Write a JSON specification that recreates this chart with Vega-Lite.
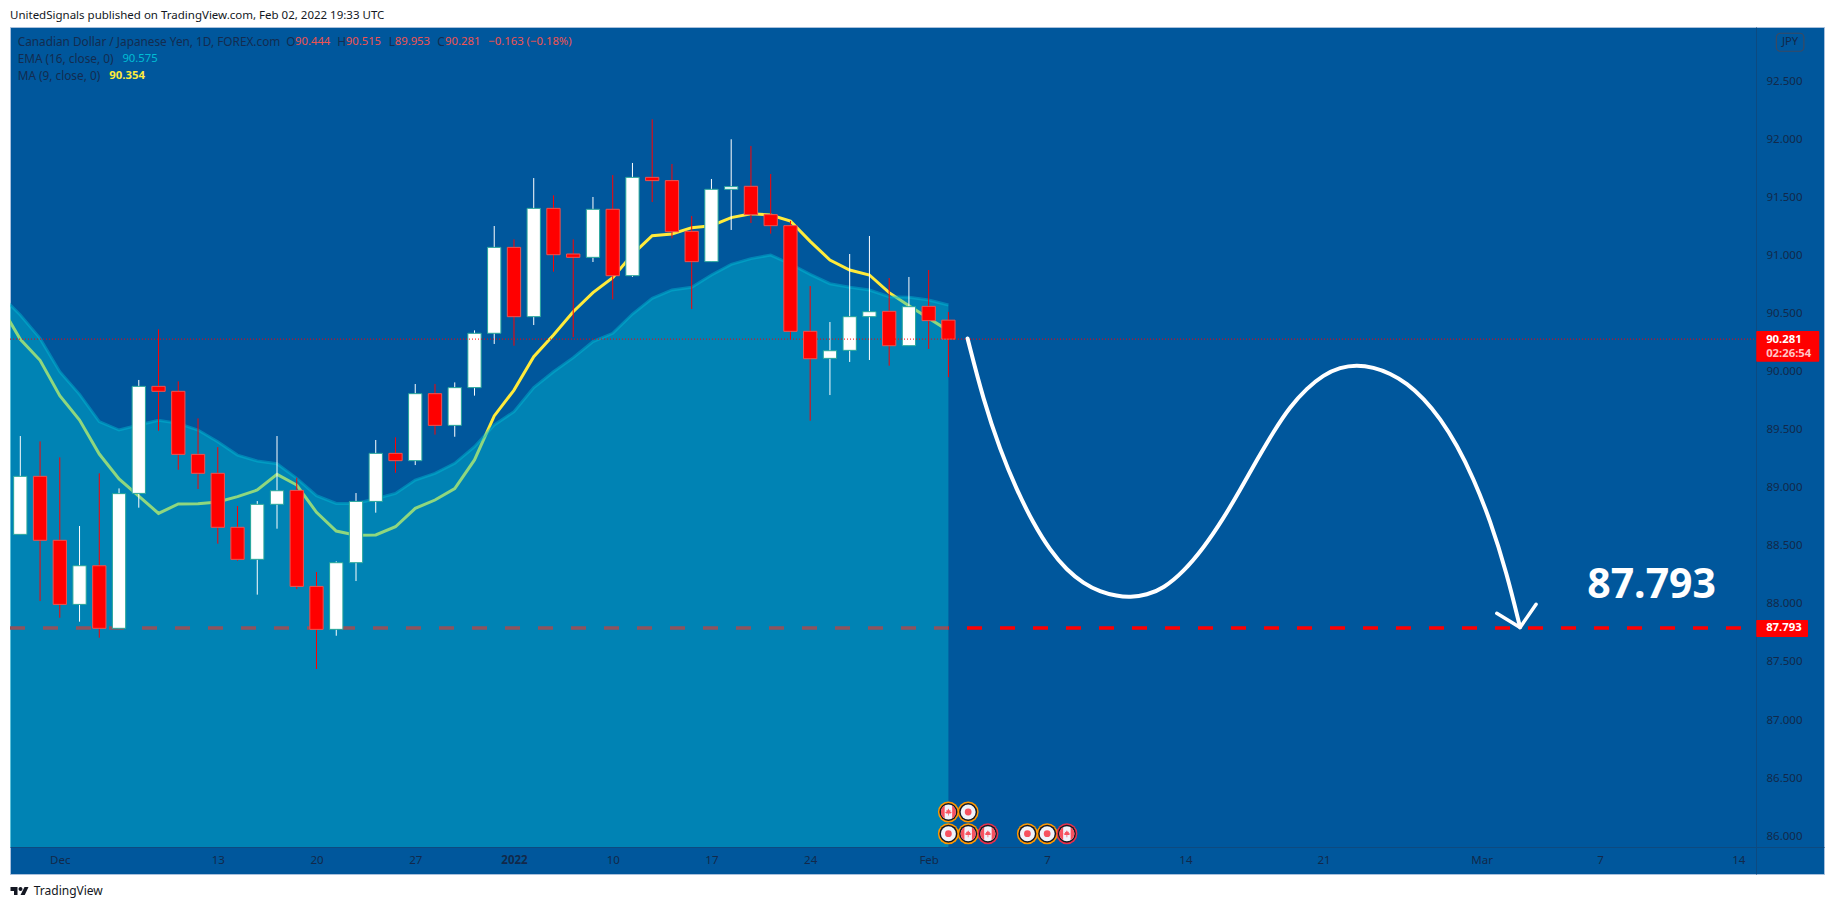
{
  "$schema": "https://vega.github.io/schema/vega-lite/v6.json",
  "width": 1814,
  "height": 847,
  "autosize": {"type": "none"},
  "padding": {"left": 10, "top": 27, "right": 10, "bottom": 36},
  "background": "white",
  "title": {
    "text": "UnitedSignals published on TradingView.com, Feb 02, 2022 19:33 UTC",
    "anchor": "start",
    "frame": "group",
    "font": "Noto Sans",
    "fontSize": 11.5,
    "fontWeight": "normal",
    "color": "#131722",
    "offset": 6
  },
  "config": {
    "view": {"fill": "#00579c", "stroke": "#a8c0dc"},
    "axis": {"grid": false, "ticks": false, "title": null, "labelFont": "Noto Sans", "labelFontSize": 11.5, "labelColor": "#12294a", "domainColor": "#0d4a80", "domainWidth": 1, "labelOverlap": false, "labelFlush": false, "labelBound": false},
    "text": {"font": "Noto Sans", "fontSize": 11.3}
  },
  "datasets": {
    "candles": [
      {"bar":0,"open":88.599,"high":89.446,"low":88.599,"close":89.099},
      {"bar":1,"open":89.099,"high":89.400,"low":88.025,"close":88.548},
      {"bar":2,"open":88.548,"high":89.262,"low":87.881,"close":87.996},
      {"bar":3,"open":87.996,"high":88.671,"low":87.847,"close":88.329},
      {"bar":4,"open":88.329,"high":89.125,"low":87.709,"close":87.790},
      {"bar":5,"open":87.790,"high":88.995,"low":87.790,"close":88.950},
      {"bar":6,"open":88.952,"high":89.929,"low":88.829,"close":89.874},
      {"bar":7,"open":89.874,"high":90.365,"low":89.492,"close":89.831},
      {"bar":8,"open":89.831,"high":89.917,"low":89.156,"close":89.288},
      {"bar":9,"open":89.288,"high":89.598,"low":88.990,"close":89.125},
      {"bar":10,"open":89.125,"high":89.351,"low":88.519,"close":88.660},
      {"bar":11,"open":88.660,"high":88.843,"low":88.372,"close":88.384},
      {"bar":12,"open":88.384,"high":88.886,"low":88.080,"close":88.858},
      {"bar":13,"open":88.858,"high":89.446,"low":88.648,"close":88.975},
      {"bar":14,"open":88.978,"high":89.087,"low":88.128,"close":88.151},
      {"bar":15,"open":88.151,"high":88.275,"low":87.439,"close":87.781},
      {"bar":16,"open":87.781,"high":88.367,"low":87.726,"close":88.355},
      {"bar":17,"open":88.355,"high":88.955,"low":88.197,"close":88.883},
      {"bar":18,"open":88.883,"high":89.412,"low":88.786,"close":89.297},
      {"bar":19,"open":89.297,"high":89.435,"low":89.130,"close":89.234},
      {"bar":20,"open":89.234,"high":89.894,"low":89.196,"close":89.811},
      {"bar":21,"open":89.811,"high":89.894,"low":89.458,"close":89.538},
      {"bar":22,"open":89.538,"high":89.908,"low":89.440,"close":89.863},
      {"bar":23,"open":89.863,"high":90.356,"low":89.794,"close":90.331},
      {"bar":24,"open":90.331,"high":91.255,"low":90.239,"close":91.071},
      {"bar":25,"open":91.071,"high":91.140,"low":90.224,"close":90.474},
      {"bar":26,"open":90.474,"high":91.668,"low":90.402,"close":91.407},
      {"bar":27,"open":91.407,"high":91.519,"low":90.862,"close":91.008},
      {"bar":28,"open":91.014,"high":91.140,"low":90.299,"close":90.985},
      {"bar":29,"open":90.985,"high":91.505,"low":90.945,"close":91.399},
      {"bar":30,"open":91.399,"high":91.694,"low":90.623,"close":90.827},
      {"bar":31,"open":90.827,"high":91.798,"low":90.816,"close":91.674},
      {"bar":32,"open":91.674,"high":92.174,"low":91.462,"close":91.646},
      {"bar":33,"open":91.646,"high":91.789,"low":91.149,"close":91.206},
      {"bar":34,"open":91.209,"high":91.341,"low":90.540,"close":90.948},
      {"bar":35,"open":90.948,"high":91.660,"low":90.948,"close":91.571},
      {"bar":36,"open":91.571,"high":92.002,"low":91.221,"close":91.594},
      {"bar":37,"open":91.597,"high":91.944,"low":91.281,"close":91.353},
      {"bar":38,"open":91.353,"high":91.703,"low":91.189,"close":91.258},
      {"bar":39,"open":91.258,"high":91.298,"low":90.279,"close":90.348},
      {"bar":40,"open":90.348,"high":90.738,"low":89.578,"close":90.112},
      {"bar":41,"open":90.115,"high":90.428,"low":89.799,"close":90.181},
      {"bar":42,"open":90.184,"high":91.014,"low":90.084,"close":90.474},
      {"bar":43,"open":90.474,"high":91.169,"low":90.101,"close":90.517},
      {"bar":44,"open":90.520,"high":90.807,"low":90.052,"close":90.224},
      {"bar":45,"open":90.224,"high":90.816,"low":90.224,"close":90.560},
      {"bar":46,"open":90.563,"high":90.876,"low":90.196,"close":90.440},
      {"bar":47,"open":90.444,"high":90.515,"low":89.953,"close":90.281}
    ],
    "averages": [
      {"bar":-1,"ma":90.569,"ema":90.661},
      {"bar":0,"ma":90.279,"ema":90.488},
      {"bar":1,"ma":90.098,"ema":90.287},
      {"bar":2,"ma":89.794,"ema":90.000},
      {"bar":3,"ma":89.584,"ema":89.805},
      {"bar":4,"ma":89.291,"ema":89.570},
      {"bar":5,"ma":89.076,"ema":89.498},
      {"bar":6,"ma":88.929,"ema":89.541},
      {"bar":7,"ma":88.780,"ema":89.581},
      {"bar":8,"ma":88.861,"ema":89.555},
      {"bar":9,"ma":88.863,"ema":89.498},
      {"bar":10,"ma":88.878,"ema":89.397},
      {"bar":11,"ma":88.924,"ema":89.282},
      {"bar":12,"ma":88.981,"ema":89.231},
      {"bar":13,"ma":89.116,"ema":89.208},
      {"bar":14,"ma":89.024,"ema":89.082},
      {"bar":15,"ma":88.789,"ema":88.932},
      {"bar":16,"ma":88.628,"ema":88.866},
      {"bar":17,"ma":88.591,"ema":88.866},
      {"bar":18,"ma":88.594,"ema":88.906},
      {"bar":19,"ma":88.665,"ema":88.952},
      {"bar":20,"ma":88.823,"ema":89.067},
      {"bar":21,"ma":88.895,"ema":89.125},
      {"bar":22,"ma":88.993,"ema":89.211},
      {"bar":23,"ma":89.240,"ema":89.354},
      {"bar":24,"ma":89.619,"ema":89.541},
      {"bar":25,"ma":89.842,"ema":89.656},
      {"bar":26,"ma":90.129,"ema":89.863},
      {"bar":27,"ma":90.316,"ema":90.000},
      {"bar":28,"ma":90.517,"ema":90.121},
      {"bar":29,"ma":90.681,"ema":90.259},
      {"bar":30,"ma":90.810,"ema":90.331},
      {"bar":31,"ma":91.011,"ema":90.497},
      {"bar":32,"ma":91.172,"ema":90.632},
      {"bar":33,"ma":91.186,"ema":90.704},
      {"bar":34,"ma":91.241,"ema":90.727},
      {"bar":35,"ma":91.258,"ema":90.833},
      {"bar":36,"ma":91.327,"ema":90.925},
      {"bar":37,"ma":91.361,"ema":90.974},
      {"bar":38,"ma":91.350,"ema":91.005},
      {"bar":39,"ma":91.298,"ema":90.928},
      {"bar":40,"ma":91.123,"ema":90.839},
      {"bar":41,"ma":90.962,"ema":90.758},
      {"bar":42,"ma":90.876,"ema":90.727},
      {"bar":43,"ma":90.833,"ema":90.704},
      {"bar":44,"ma":90.681,"ema":90.646},
      {"bar":45,"ma":90.569,"ema":90.641},
      {"bar":46,"ma":90.460,"ema":90.618},
      {"bar":47,"ma":90.354,"ema":90.575}
    ],
    "events": [
      {"bar":47,"price":86.208,"country":"CA","impact":"medium"},
      {"bar":48,"price":86.208,"country":"JP","impact":"medium"},
      {"bar":47,"price":86.021,"country":"JP","impact":"medium"},
      {"bar":48,"price":86.021,"country":"CA","impact":"medium"},
      {"bar":49,"price":86.021,"country":"CA","impact":"high"},
      {"bar":51,"price":86.021,"country":"JP","impact":"medium"},
      {"bar":52,"price":86.021,"country":"JP","impact":"medium"},
      {"bar":53,"price":86.021,"country":"CA","impact":"high"}
    ]
  },
  "encoding": {
    "x": {
      "field": "bar",
      "type": "quantitative",
      "scale": {"domain": [-0.5217, 91.34], "nice": false, "zero": false, "padding": 0},
      "axis": {
        "orient": "bottom",
        "offset": -27,
        "title": null,
        "values": [2, 10, 15, 20, 25, 30, 35, 40, 46, 52, 59, 66, 74, 80, 87],
        "labelExpr": "{'2':'Dec','10':'13','15':'20','20':'27','25':'2022','30':'10','35':'17','40':'24','46':'Feb','52':'7','59':'14','66':'21','74':'Mar','80':'7','87':'14'}[datum.value]",
        "labelPadding": 7,
        "labelFontWeight": {"condition": {"test": "datum.value == 25", "value": "bold"}, "value": "normal"}
      }
    },
    "y": {
      "field": "price",
      "type": "quantitative",
      "scale": {"domain": [85.674, 92.969], "nice": false, "zero": false},
      "axis": {
        "orient": "right",
        "offset": -68,
        "title": null,
        "values": [86, 86.5, 87, 87.5, 88, 88.5, 89, 89.5, 90, 90.5, 91, 91.5, 92, 92.5],
        "format": ".3f",
        "labelPadding": 10,
        "labelAlign": "left"
      }
    }
  },
  "layer": [
    {
      "data": {"values": [{"bar": -0.5217, "price": 87.793}, {"bar": 87.14, "price": 87.793}]},
      "mark": {"type": "line", "color": "#ff0000", "strokeWidth": 3.4, "strokeDash": [15, 18], "strokeCap": "butt"}
    },
    {
      "data": {"name": "averages"},
      "mark": {"type": "line", "color": "#ffeb3b", "strokeWidth": 3, "clip": true},
      "encoding": {"y": {"field": "ma", "type": "quantitative"}}
    },
    {
      "data": {"name": "averages"},
      "mark": {"type": "area", "color": "#00bcd4", "opacity": 0.44, "clip": true},
      "encoding": {"y": {"field": "ema", "type": "quantitative"}, "y2": {"datum": 85.906}}
    },
    {
      "data": {"name": "averages"},
      "mark": {"type": "line", "color": "#00bcd4", "opacity": 0.45, "strokeWidth": 3, "clip": true},
      "encoding": {"y": {"field": "ema", "type": "quantitative"}}
    },
    {
      "data": {"name": "candles"},
      "mark": {"type": "rule", "strokeWidth": 1},
      "encoding": {
        "y": {"field": "low", "type": "quantitative"},
        "y2": {"field": "high"},
        "color": {"condition": {"test": "datum.close >= datum.open", "value": "#ffffff"}, "value": "#ff0000"}
      }
    },
    {
      "data": {"name": "candles"},
      "mark": {"type": "bar", "size": 13.3, "strokeWidth": 1},
      "encoding": {
        "y": {"field": "open", "type": "quantitative"},
        "y2": {"field": "close"},
        "fill": {"condition": {"test": "datum.close >= datum.open", "value": "#ffffff"}, "value": "#ff0000"},
        "stroke": {"condition": {"test": "datum.close >= datum.open", "value": "#26a69a"}, "value": "#ef5350"}
      }
    },
    {
      "data": {"values": [{"bar": -0.5217, "bar2": 87.91, "price": 90.281}]},
      "mark": {"type": "rule", "color": "#ff0000", "strokeWidth": 1, "strokeDash": [1, 2]},
      "encoding": {"x2": {"field": "bar2"}}
    },
    {
      "data": {"values": [
        {"bar":47.97,"price":90.286},{"bar":48.77,"price":89.756},{"bar":49.62,"price":89.326},{"bar":50.46,"price":88.981},
        {"bar":51.30,"price":88.694},{"bar":52.15,"price":88.461},{"bar":52.99,"price":88.292},{"bar":53.84,"price":88.177},
        {"bar":54.68,"price":88.105},{"bar":55.53,"price":88.068},{"bar":56.20,"price":88.057},{"bar":57.05,"price":88.077},
        {"bar":57.89,"price":88.134},{"bar":58.90,"price":88.277},{"bar":59.91,"price":88.479},{"bar":60.93,"price":88.737},
        {"bar":61.77,"price":88.981},{"bar":62.62,"price":89.239},{"bar":63.46,"price":89.483},{"bar":64.30,"price":89.699},
        {"bar":65.15,"price":89.857},{"bar":65.99,"price":89.972},{"bar":66.84,"price":90.038},{"bar":67.68,"price":90.058},
        {"bar":68.52,"price":90.038},{"bar":69.37,"price":89.986},{"bar":70.22,"price":89.900},{"bar":71.06,"price":89.771},
        {"bar":71.90,"price":89.599},{"bar":72.75,"price":89.369},{"bar":73.59,"price":89.082},{"bar":74.43,"price":88.723},
        {"bar":75.28,"price":88.264},{"bar":75.95,"price":87.798}
      ]},
      "mark": {"type": "line", "color": "#ffffff", "strokeWidth": 4, "interpolate": "basis", "strokeCap": "round"}
    },
    {
      "data": {"values": [{"bar":74.77,"price":87.919},{"bar":75.95,"price":87.798},{"bar":76.76,"price":87.997}]},
      "mark": {"type": "line", "color": "#ffffff", "strokeWidth": 3.5, "strokeCap": "round", "strokeJoin": "round"}
    },
    {
      "data": {"values": [{"bar":87.91,"bar2":91.10,"price":90.351,"price2":90.086},{"bar":87.91,"bar2":90.53,"price":87.861,"price2":87.715}]},
      "mark": {"type": "rect", "color": "#ff0000", "cornerRadius": 1},
      "encoding": {"x2": {"field": "bar2"}, "y2": {"field": "price2"}}
    },
    {
      "data": {"values": [{"bar":88.93,"bar2":90.32,"price":92.915,"price2":92.760}]},
      "mark": {"type": "rect", "fill": "#00579c", "stroke": "#3a4a63", "strokeWidth": 1.2, "cornerRadius": 4, "opacity": 1},
      "encoding": {"x2": {"field": "bar2"}, "y2": {"field": "price2"}}
    },
    {
      "data": {"values": [{"bar":89.62,"price":92.84,"label":"JPY"}]},
      "mark": {"type": "text", "color": "#12294a", "align": "center", "baseline": "middle"},
      "encoding": {"text": {"field": "label"}}
    },
    {
      "data": {"values": [{"bar":88.41,"price":90.276,"label":"90.281"},{"bar":88.41,"price":87.792,"label":"87.793"}]},
      "mark": {"type": "text", "color": "#ffffff", "align": "left", "baseline": "middle", "fontWeight": "bold"},
      "encoding": {"text": {"field": "label"}}
    },
    {
      "data": {"values": [{"bar":88.41,"price":90.152,"label":"02:26:54"}]},
      "mark": {"type": "text", "color": "#ffc4c4", "align": "left", "baseline": "middle", "fontWeight": "bold"},
      "encoding": {"text": {"field": "label"}}
    },
    {
      "data": {"values": [{"bar":82.61,"price":88.156,"label":"87.793"}]},
      "mark": {"type": "text", "color": "#ffffff", "align": "center", "baseline": "middle", "fontWeight": "bold", "fontSize": 41},
      "encoding": {"text": {"field": "label"}}
    },
    {
      "data": {"values": [
        {"bar":-0.132,"price":92.842,"label":"Canadian Dollar / Japanese Yen, 1D, FOREX.com"},
        {"bar":13.47,"price":92.842,"label":"O"},
        {"bar":16.05,"price":92.842,"label":"H"},
        {"bar":18.66,"price":92.842,"label":"L"},
        {"bar":21.12,"price":92.842,"label":"C"},
        {"bar":-0.132,"price":92.696,"label":"EMA (16, close, 0)"},
        {"bar":-0.132,"price":92.550,"label":"MA (9, close, 0)"}
      ]},
      "mark": {"type": "text", "color": "#132c50", "align": "left", "baseline": "middle", "fontSize": 11.8},
      "encoding": {"text": {"field": "label"}}
    },
    {
      "data": {"values": [
        {"bar":13.91,"price":92.842,"label":"90.444"},
        {"bar":16.48,"price":92.842,"label":"90.515"},
        {"bar":18.96,"price":92.842,"label":"89.953"},
        {"bar":21.51,"price":92.842,"label":"90.281"},
        {"bar":23.70,"price":92.842,"label":"−0.163 (−0.18%)"}
      ]},
      "mark": {"type": "text", "color": "#ef5350", "align": "left", "baseline": "middle"},
      "encoding": {"text": {"field": "label"}}
    },
    {
      "data": {"values": [{"bar":5.17,"price":92.696,"label":"90.575"}]},
      "mark": {"type": "text", "color": "#00bcd4", "align": "left", "baseline": "middle"},
      "encoding": {"text": {"field": "label"}}
    },
    {
      "data": {"values": [{"bar":4.51,"price":92.550,"label":"90.354"}]},
      "mark": {"type": "text", "color": "#ffeb3b", "align": "left", "baseline": "middle", "fontWeight": "bold"},
      "encoding": {"text": {"field": "label"}}
    },
    {
      "data": {"name": "events"},
      "mark": {"type": "point", "shape": "circle", "filled": true, "opacity": 1, "size": 441, "strokeWidth": 0},
      "encoding": {"color": {"condition": {"test": "datum.impact == 'high'", "value": "#e5304a"}, "value": "#ff9800"}}
    },
    {
      "data": {"name": "events"},
      "mark": {"type": "point", "shape": "circle", "filled": true, "opacity": 1, "size": 324, "strokeWidth": 0, "color": "#131722"}
    },
    {
      "data": {"name": "events"},
      "mark": {"type": "point", "shape": "circle", "filled": true, "opacity": 1, "size": 225, "strokeWidth": 0, "color": "#f0f3fa"}
    },
    {
      "data": {"name": "events"},
      "transform": [{"filter": "datum.country == 'JP'"}],
      "mark": {"type": "point", "shape": "circle", "filled": true, "opacity": 1, "size": 46, "strokeWidth": 0, "color": "#f7525f"}
    },
    {
      "data": {"name": "events"},
      "transform": [{"filter": "datum.country == 'CA'"}],
      "mark": {"type": "point", "shape": "M-0.5,-0.866A1,1 0 0 0 -0.5,0.866ZM0.5,-0.866A1,1 0 0 1 0.5,0.866Z", "filled": true, "opacity": 1, "size": 225, "strokeWidth": 0, "color": "#f7525f"}
    },
    {
      "data": {"name": "events"},
      "transform": [{"filter": "datum.country == 'CA'"}],
      "mark": {"type": "point", "shape": "M0,-1L0.3,-0.45L0.6,-0.6L0.5,-0.1L1,0L0.6,0.4L0.1,0.4L0.1,1L-0.1,1L-0.1,0.4L-0.6,0.4L-1,0L-0.5,-0.1L-0.6,-0.6L-0.3,-0.45Z", "filled": true, "opacity": 1, "size": 49, "strokeWidth": 0, "color": "#f7525f"}
    },
    {
      "data": {"values": [{"bar":-0.04,"price":85.527}]},
      "mark": {"type": "point", "shape": "M-0.222,-0.444L-1,-0.444L-1,0L-0.611,0L-0.611,0.444L-0.222,0.444ZM-0.111,-0.222a0.222,0.222 0 1 0 0.444,0a0.222,0.222 0 1 0 -0.444,0ZM0.556,-0.444L1,-0.444L0.583,0.444L0.111,0.444Z", "filled": true, "opacity": 1, "size": 324, "strokeWidth": 0, "color": "#131722"}
    },
    {
      "data": {"values": [{"bar":0.68,"price":85.527,"label":"TradingView"}]},
      "mark": {"type": "text", "color": "#131722", "align": "left", "baseline": "middle", "fontSize": 12},
      "encoding": {"text": {"field": "label"}}
    }
  ]
}
